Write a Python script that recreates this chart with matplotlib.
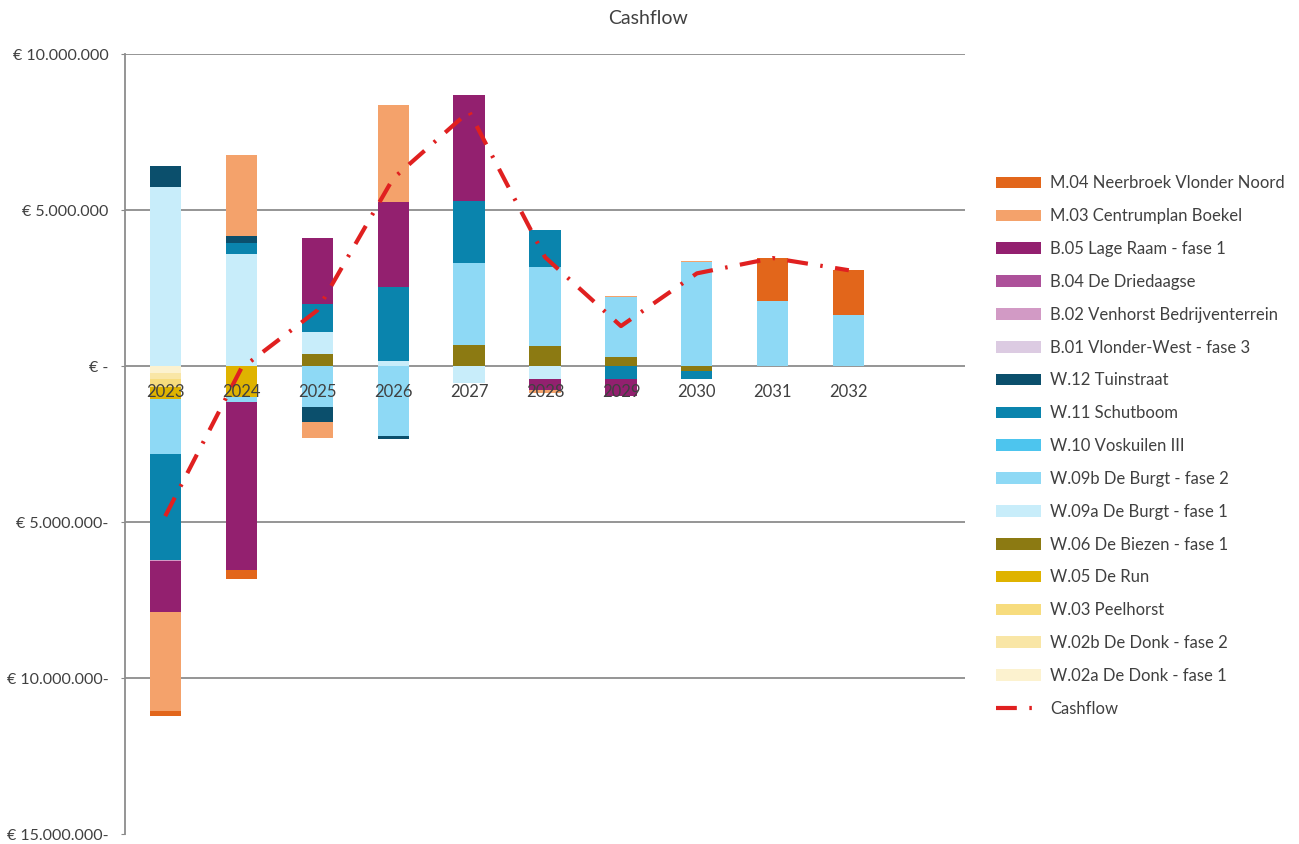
import numpy as np
import matplotlib
matplotlib.use("Agg")
import matplotlib.pyplot as plt
import matplotlib.transforms as mtransforms
from matplotlib.patches import Patch
from matplotlib.lines import Line2D
from matplotlib.ticker import FuncFormatter

plt.rcParams['font.family'] = ['Lato', 'DejaVu Sans']

years = ['2023', '2024', '2025', '2026', '2027', '2028', '2029', '2030', '2031', '2032']

# values in million euro (series in stacking order)
w02a = [-0.22, 0, 0, 0, 0, 0, 0, 0, 0, 0]
w02b = [-0.20, 0, 0, 0, 0, 0, 0, 0, 0, 0]
w03 = [-0.25, 0, 0, 0, 0, 0, 0, 0, 0, 0]
w05 = [-0.38, -1.00, 0, 0, 0, 0, 0, 0, 0, 0]
w06 = [0, 0, 0.40, 0, 0.67, 0.64, 0.29, -0.15, 0, 0]
w09a = [5.74, 3.59, 0.69, 0.15, -0.53, -0.42, 0, 0, 0, 0]
w09b = [-1.76, -0.16, -1.30, -2.24, 2.63, 2.53, 1.92, 3.34, 2.08, 1.63]
w10 = [0, 0, 0, 0, 0, 0, 0, 0, 0, 0]
w11 = [-3.40, 0.35, 0.90, 2.37, 1.99, 1.19, -0.42, -0.25, 0, 0]
w12 = [0.67, 0.22, -0.48, -0.10, 0, 0, 0, 0, 0, 0]
b01 = [0, 0, 0, 0, 0, 0, 0, 0, 0, 0]
b02 = [-0.05, 0, 0, 0, 0, 0, 0, 0, 0, 0]
b04 = [0, 0, 0, 0, 0, 0, 0, 0, 0, 0]
b05 = [-1.63, -5.39, 2.11, 2.75, 3.40, -0.35, -0.55, 0, 0, 0]
m03 = [-3.17, 2.60, -0.54, 3.08, 0, -0.10, 0.04, 0.03, 0, 0]
m04 = [-0.16, -0.29, 0, 0, 0, 0, 0, 0, 1.38, 1.44]

series = [
    ('W.02a De Donk - fase 1', w02a, '#fcf2cf'),
    ('W.02b De Donk - fase 2', w02b, '#f9e6a6'),
    ('W.03 Peelhorst', w03, '#f7dc7e'),
    ('W.05 De Run', w05, '#dfb300'),
    ('W.06 De Biezen - fase 1', w06, '#8c7a12'),
    ('W.09a De Burgt - fase 1', w09a, '#c8edfa'),
    ('W.09b De Burgt - fase 2', w09b, '#8ed9f5'),
    ('W.10 Voskuilen III', w10, '#4dc5ee'),
    ('W.11 Schutboom', w11, '#0a84ad'),
    ('W.12 Tuinstraat', w12, '#0b4f6c'),
    ('B.01 Vlonder-West - fase 3', b01, '#dccbe2'),
    ('B.02 Venhorst Bedrijventerrein', b02, '#d29ac5'),
    ('B.04 De Driedaagse', b04, '#ad519a'),
    ('B.05 Lage Raam - fase 1', b05, '#93206f'),
    ('M.03 Centrumplan Boekel', m03, '#f4a26b'),
    ('M.04 Neerbroek Vlonder Noord', m04, '#e2661b'),
]

fig = plt.figure(figsize=(12.99, 8.44), dpi=100)
ax = fig.add_axes([0.0962, 0.0118, 0.6467, 0.9242])

x = np.arange(len(years))
pos = np.zeros(len(years))
neg = np.zeros(len(years))
total = np.zeros(len(years))
for name, vals, col in series:
    v = np.array(vals) * 1e6
    bottom = np.where(v >= 0, pos, neg)
    ax.bar(x, v, 0.41, bottom=bottom, color=col, zorder=2)
    pos = pos + np.where(v >= 0, v, 0)
    neg = neg + np.where(v < 0, v, 0)
    total = total + v

ax.plot(x, total, color='#e02020', lw=3, dashes=(5, 3, 0.6, 3), zorder=4)

# year labels sit just below the zero line, on top of the bars
off = mtransforms.offset_copy(ax.transData, fig=fig, y=-26, units='dots')
for i, yr in enumerate(years):
    ax.text(x[i], 0, yr, transform=off, ha='center', va='center',
            fontsize=12, color='#404040', zorder=5)

ax.set_xlim(-0.53, 10.53)
ax.set_ylim(-15e6, 10e6)
ax.set_yticks([-15e6, -10e6, -5e6, 0, 5e6, 10e6])


def euro(v, p):
    if v == 0:
        return '€ -'
    s = '€ ' + format(int(abs(v)), ',').replace(',', '.')
    if v < 0:
        s += '-'
    return s


ax.yaxis.set_major_formatter(FuncFormatter(euro))
ax.set_xticks([])
ax.tick_params(axis='y', length=3, color='#888888', pad=9, labelsize=11.5,
               labelcolor='#404040')
for yv in [-10e6, -5e6, 0, 5e6, 10e6]:
    ax.axhline(yv, color='#8c8c8c', lw=1.3, zorder=1)
for s in ['top', 'right', 'bottom']:
    ax.spines[s].set_visible(False)
ax.spines['left'].set_color('#8c8c8c')
ax.spines['left'].set_linewidth(1.3)

fig.text(0.499, 0.978, 'Cashflow', ha='center', va='center', fontsize=14,
         color='#404040')

handles = [Patch(facecolor=col, label=name) for name, vals, col in series[::-1]]
handles.append(Line2D([0], [0], color='#e02020', lw=3, dashes=(5, 3, 0.6, 3),
                      label='Cashflow'))
fig.legend(handles=handles, loc='upper left', bbox_to_anchor=(0.755, 0.81),
           frameon=False, fontsize=12, handlelength=2.7, handleheight=0.7,
           labelspacing=1.01, handletextpad=0.55, labelcolor='#404040')

fig.savefig('out.png', dpi=100)
